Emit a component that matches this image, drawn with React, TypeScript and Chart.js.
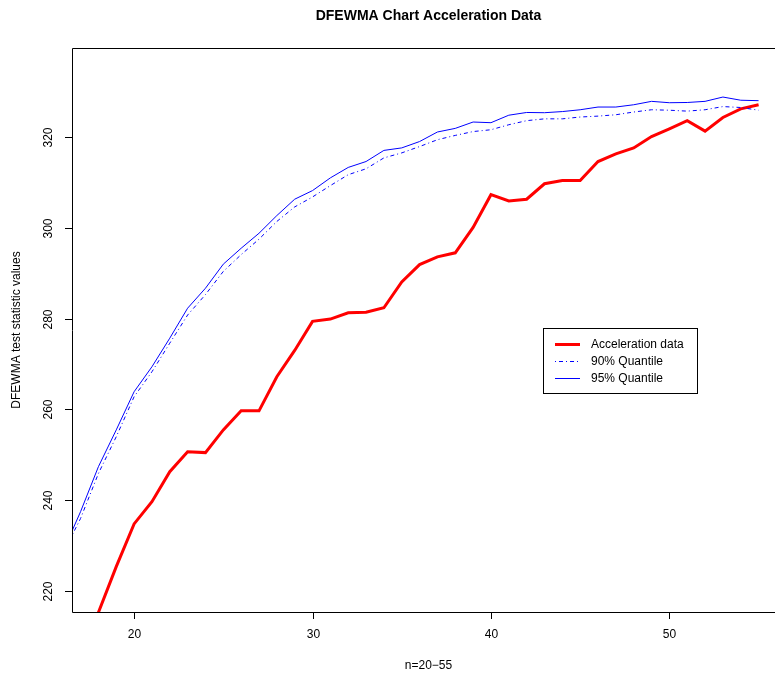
import React, { useEffect, useRef } from "react";
import { Chart, registerables } from "chart.js";

Chart.register(...registerables);

const nAccel = [18, 19, 20, 21, 22, 23, 24, 25, 26, 27, 28, 29, 30, 31, 32, 33, 34, 35, 36, 37, 38, 39, 40, 41, 42, 43, 44, 45, 46, 47, 48, 49, 50, 51, 52, 53, 54, 55];
const accelData = [215.3, 225.4, 234.8, 239.7, 246.3, 250.7, 250.5, 255.5, 259.7, 259.7, 267.2, 273.0, 279.4, 279.9, 281.3, 281.4, 282.4, 288.1, 291.9, 293.6, 294.5, 300.1, 307.3, 305.9, 306.3, 309.7, 310.4, 310.4, 314.6, 316.3, 317.6, 320.1, 321.8, 323.6, 321.3, 324.3, 326.2, 327.1];

const nQuant = [16, 17, 18, 19, 20, 21, 22, 23, 24, 25, 26, 27, 28, 29, 30, 31, 32, 33, 34, 35, 36, 37, 38, 39, 40, 41, 42, 43, 44, 45, 46, 47, 48, 49, 50, 51, 52, 53, 54, 55];
const q90 = [228.2, 236.0, 245.9, 254.0, 262.8, 268.3, 274.6, 280.8, 285.3, 290.4, 294.1, 297.5, 301.4, 304.6, 306.8, 309.3, 311.7, 313.0, 315.4, 316.5, 317.9, 319.4, 320.35, 321.2, 321.6, 322.7, 323.6, 324.0, 324.0, 324.4, 324.6, 324.9, 325.5, 326.0, 325.9, 325.7, 326.0, 326.7, 326.5, 325.9];
const q95 = [228.6, 237.5, 247.4, 255.5, 263.9, 269.4, 275.7, 282.3, 286.7, 292.0, 295.5, 298.8, 302.7, 306.3, 308.2, 311.0, 313.3, 314.6, 317.05, 317.6, 319.0, 321.1, 321.9, 323.3, 323.15, 324.8, 325.4, 325.35, 325.6, 326.0, 326.6, 326.6, 327.1, 327.85, 327.55, 327.6, 327.85, 328.8, 328.1, 328.0];

const xTicks = [20, 30, 40, 50];
const yTicks = [220, 240, 260, 280, 300, 320];

const titleText = "DFEWMA Chart Acceleration Data";
const xTitle = "n=20\u221255";
const yTitle = "DFEWMA test statistic values";
const legendLabels = ["Acceleration data", "90% Quantile", "95% Quantile"];

const FONT = '"Liberation Sans", Arial, Helvetica, sans-serif';

const rPlot = {
  id: "rPlot",
  afterDraw(chart: any) {
    const ctx = chart.ctx as CanvasRenderingContext2D;
    const a = chart.chartArea;
    const xs = chart.scales.x;
    const ys = chart.scales.y;
    ctx.save();
    ctx.strokeStyle = "#000";
    ctx.lineWidth = 1;
    ctx.beginPath();
    ctx.rect(Math.round(a.left) + 0.5, Math.round(a.top) + 0.5, a.right - a.left, a.bottom - a.top);
    ctx.stroke();

    ctx.fillStyle = "#000";
    ctx.font = "12px " + FONT;
    ctx.textAlign = "center";
    ctx.textBaseline = "middle";
    for (const t of xTicks) {
      const px = Math.round(xs.getPixelForValue(t)) + 0.5;
      ctx.beginPath();
      ctx.moveTo(px, a.bottom);
      ctx.lineTo(px, a.bottom + 7);
      ctx.stroke();
      ctx.fillText(String(t), px, a.bottom + 23);
    }
    for (const t of yTicks) {
      const py = Math.round(ys.getPixelForValue(t)) + 0.5;
      ctx.beginPath();
      ctx.moveTo(a.left, py);
      ctx.lineTo(a.left - 7, py);
      ctx.stroke();
      ctx.save();
      ctx.translate(a.left - 23, py);
      ctx.rotate(-Math.PI / 2);
      ctx.fillText(String(t), 0, 0);
      ctx.restore();
    }
    const cx = (a.left + a.right) / 2;
    ctx.fillText(xTitle, cx, a.bottom + 54);
    ctx.save();
    ctx.translate(17, (a.top + a.bottom) / 2);
    ctx.rotate(-Math.PI / 2);
    ctx.fillText(yTitle, 0, 0);
    ctx.restore();
    ctx.font = "bold 14px " + FONT;
    ctx.fillText(titleText, cx, 16);

    const lx = 543.5, ly = 328.5, lw = 154, lh = 65;
    ctx.fillStyle = "#fff";
    ctx.fillRect(lx, ly, lw, lh);
    ctx.strokeStyle = "#000";
    ctx.lineWidth = 1;
    ctx.strokeRect(lx, ly, lw, lh);
    ctx.font = "12px " + FONT;
    ctx.textAlign = "left";
    const ds = chart.data.datasets;
    const rows = [344, 361, 378];
    for (let i = 0; i < 3; i++) {
      const d = ds[i];
      ctx.save();
      ctx.strokeStyle = d.borderColor;
      ctx.lineWidth = d.borderWidth;
      ctx.setLineDash(d.borderDash || []);
      ctx.beginPath();
      ctx.moveTo(555, rows[i] + 0.5);
      ctx.lineTo(580, rows[i] + 0.5);
      ctx.stroke();
      ctx.restore();
      ctx.fillStyle = "#000";
      ctx.fillText(legendLabels[i], 591, rows[i] + 1);
    }
    ctx.restore();
  },
};

export default function App() {
  const ref = useRef<HTMLCanvasElement | null>(null);
  useEffect(() => {
    if (!ref.current) return;
    const chart = new Chart(ref.current, {
      type: "line",
      data: {
        datasets: [
          {
            label: legendLabels[0],
            data: nAccel.map((n, i) => ({ x: n, y: accelData[i] })),
            borderColor: "#ff0000",
            borderWidth: 3,
            pointRadius: 0,
            tension: 0,
            clip: 0,
            order: 2,
          },
          {
            label: legendLabels[1],
            data: nQuant.map((n, i) => ({ x: n, y: q90[i] })),
            borderColor: "#0000ff",
            borderWidth: 1,
            borderDash: [1, 3, 4, 3],
            pointRadius: 0,
            tension: 0,
            clip: 0,
            order: 1,
          },
          {
            label: legendLabels[2],
            data: nQuant.map((n, i) => ({ x: n, y: q95[i] })),
            borderColor: "#0000ff",
            borderWidth: 1,
            pointRadius: 0,
            tension: 0,
            clip: 0,
            order: 0,
          },
        ] as any,
      },
      options: {
        animation: false,
        responsive: false,
        devicePixelRatio: 1,
        layout: { padding: { left: 72, top: 48, right: 15, bottom: 65 } },
        plugins: { legend: { display: false }, title: { display: false }, tooltip: { enabled: false } },
        scales: {
          x: { type: "linear", min: 16.52, max: 56.48, display: false },
          y: { type: "linear", min: 215.4, max: 339.6, display: false },
        },
      },
      plugins: [rPlot],
    });
    return () => chart.destroy();
  }, []);
  return (
    <div style={{ position: "fixed", left: 0, top: 0, width: 775, height: 677, overflow: "hidden", background: "#fff" }}>
      <canvas ref={ref} width={800} height={677} style={{ display: "block" }} />
    </div>
  );
}
